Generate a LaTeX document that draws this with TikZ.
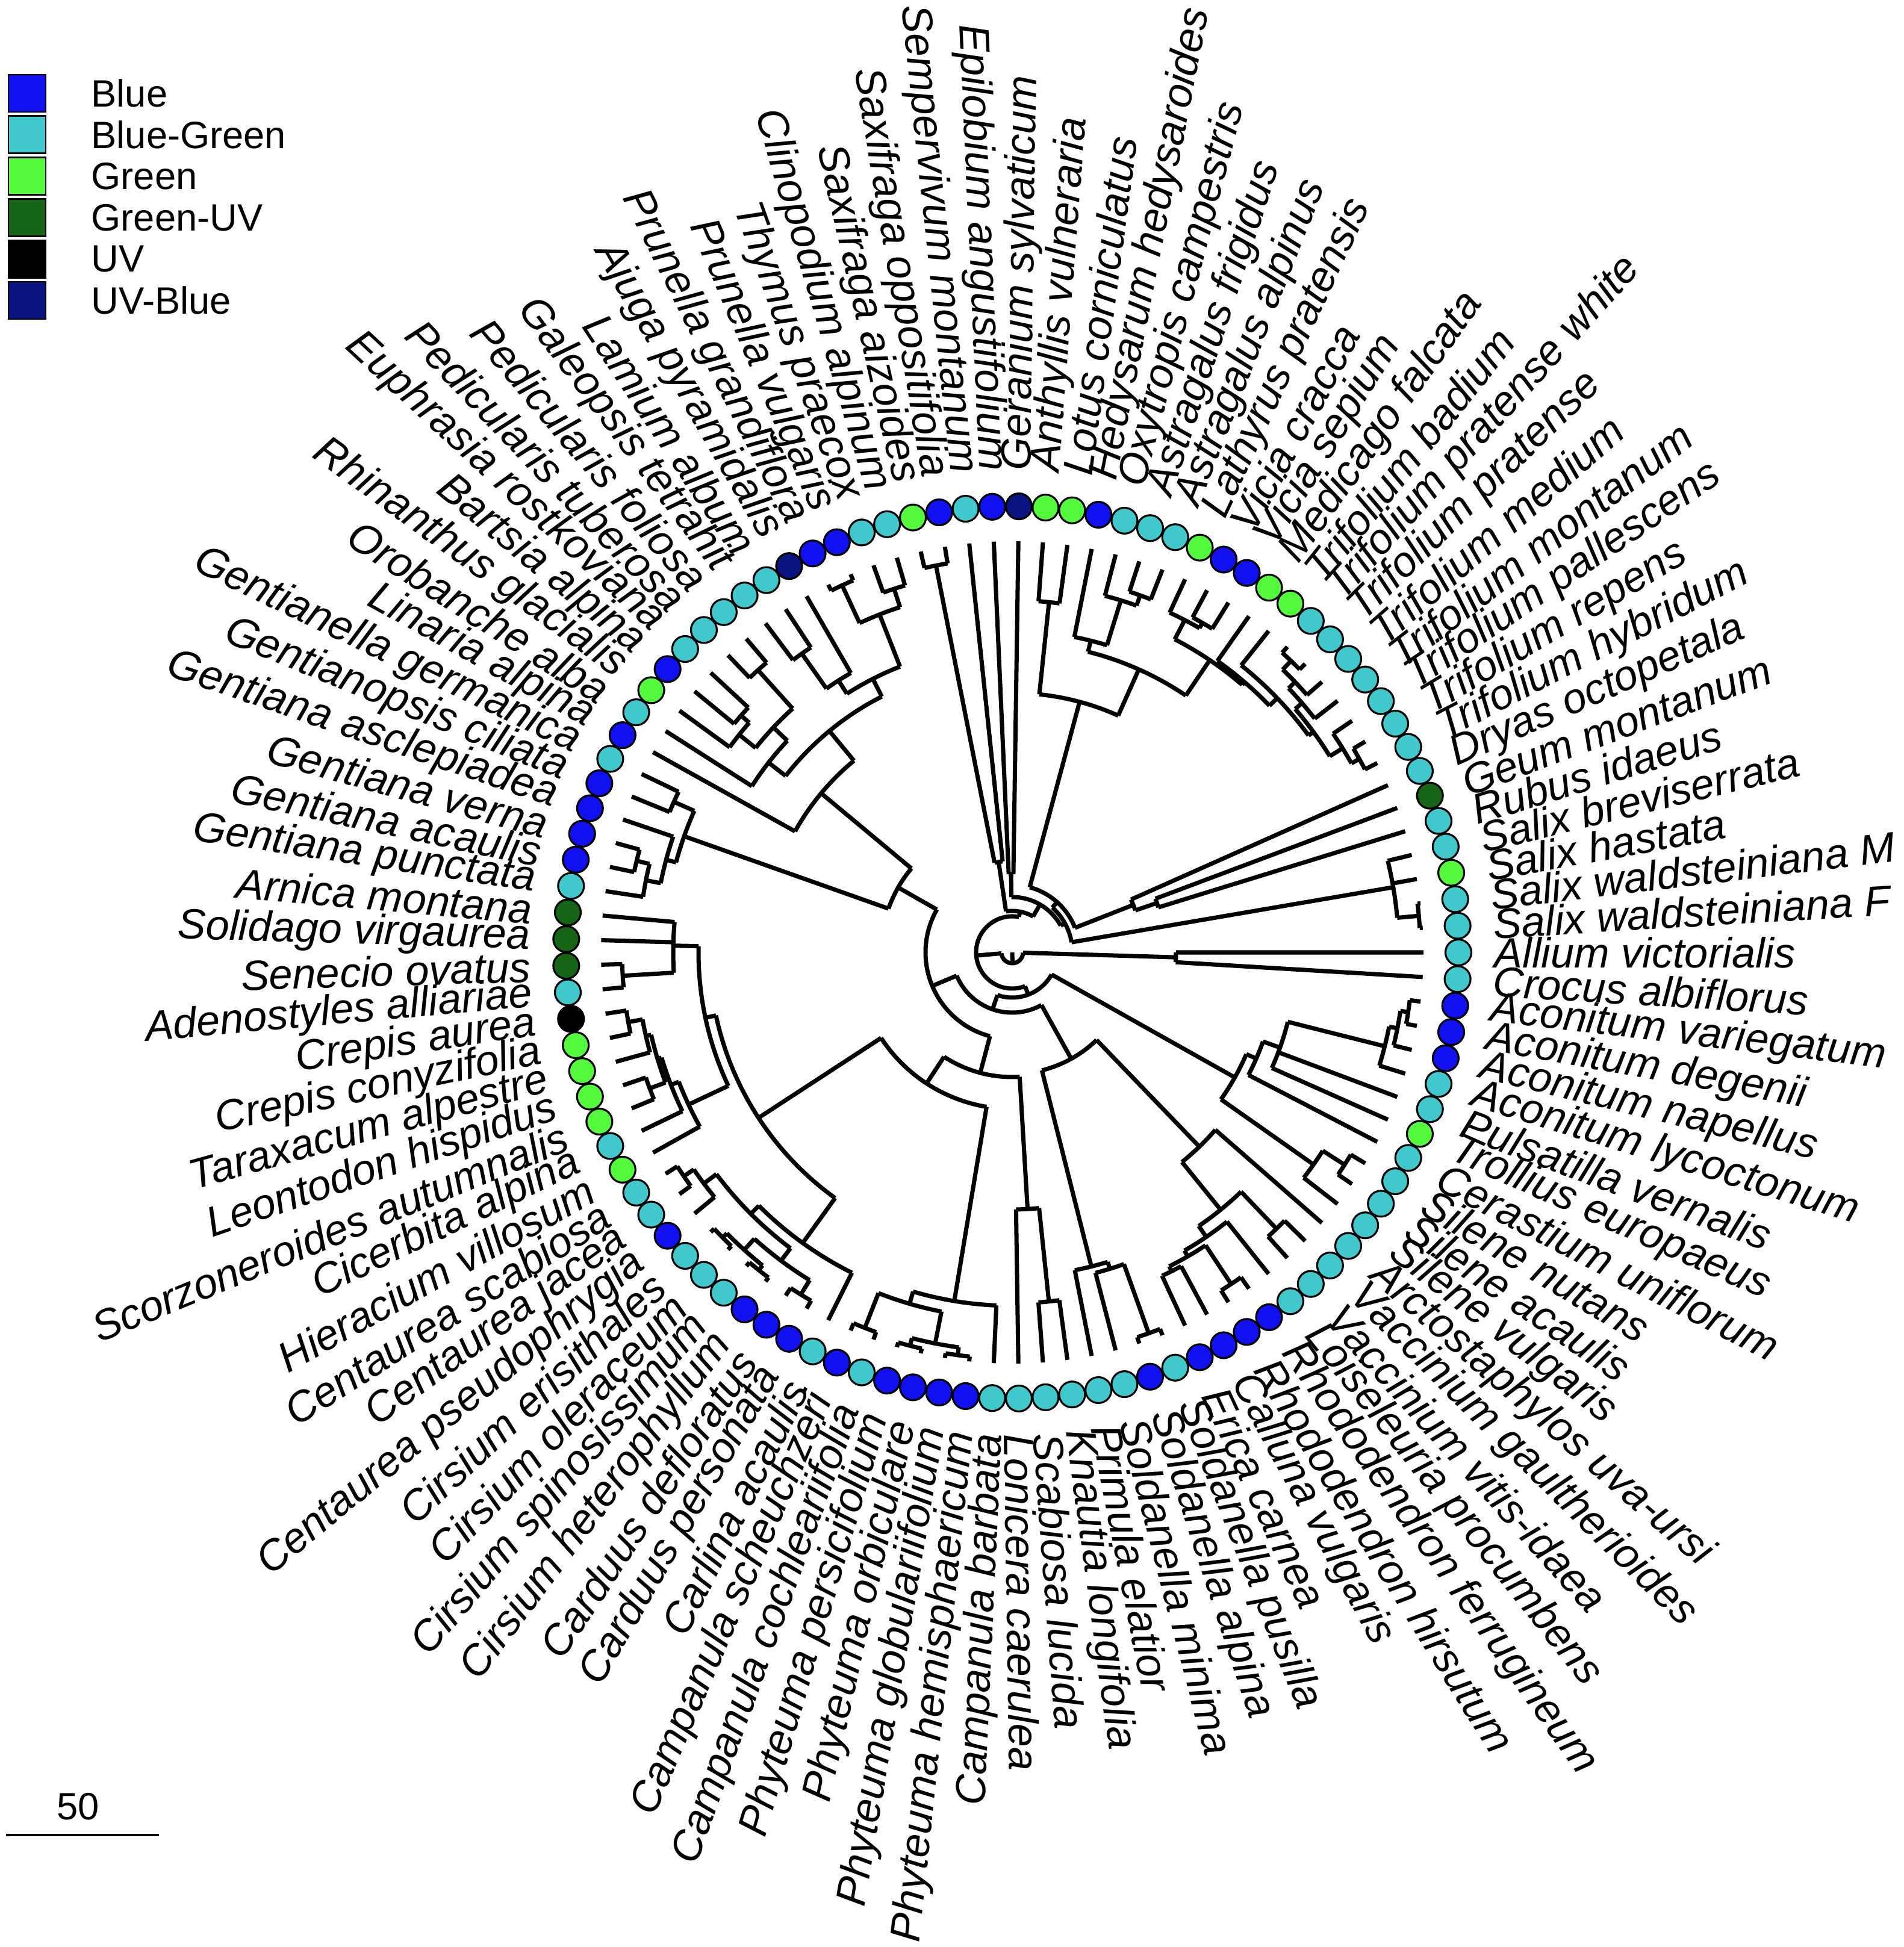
\documentclass[tikz,border=0pt]{standalone}
\usepackage{fontspec}
\setmainfont{Liberation Sans}
\usetikzlibrary{calc}

% flower colour categories
\definecolor{bl}{RGB}{16,16,240}
\definecolor{bg}{RGB}{64,200,204}
\definecolor{gr}{RGB}{84,250,60}
\definecolor{gu}{RGB}{22,100,22}
\definecolor{uv}{RGB}{0,0,0}
\definecolor{ub}{RGB}{10,20,128}

\tikzset{
  branch/.style={line width=2pt},
  tipdot/.style={circle, draw=black, line width=0.9pt, minimum size=0.43cm, inner sep=0pt},
  splab/.style={font=\fontsize{20}{24}\selectfont\itshape, inner sep=0pt},
  legbox/.style={draw=black, line width=0.8pt, minimum size=0.62cm, inner sep=0pt},
  legtext/.style={font=\fontsize{18}{22}\selectfont, inner sep=0pt}
}

\makeatletter
% tip: angle from its rank, radius of the tips
\newcommand\treetip[2]{%
  \pgfmathsetmacro\tt@a{360/105*#2}%
  \expandafter\xdef\csname A@#1\endcsname{\tt@a}%
  \expandafter\xdef\csname R@#1\endcsname{6.83}%
  \coordinate (#1) at (\tt@a:6.83);%
}
% clade: name, radius, children in angle order
\newcommand\clade[3]{%
  \gdef\cl@sum{0}\gdef\cl@n{0}\gdef\cl@first{}\gdef\cl@last{}%
  \foreach \cname in {#3}{%
    \edef\cl@ang{\csname A@\cname\endcsname}%
    \edef\cl@rad{\csname R@\cname\endcsname}%
    \draw[branch] (\cl@ang:#2) -- (\cl@ang:\cl@rad);
    \pgfmathsetmacro\cl@tmp{\cl@sum+\cl@ang}\xdef\cl@sum{\cl@tmp}%
    \pgfmathsetmacro\cl@tmp{\cl@n+1}\xdef\cl@n{\cl@tmp}%
    \ifx\cl@first\@empty\xdef\cl@first{\cl@ang}\fi
    \xdef\cl@last{\cl@ang}%
  }%
  \pgfmathsetmacro\cl@mean{\cl@sum/\cl@n}%
  \draw[branch] (\cl@first:#2) arc[start angle=\cl@first, end angle=\cl@last, radius=#2 cm];
  \expandafter\xdef\csname A@#1\endcsname{\cl@mean}%
  \expandafter\xdef\csname R@#1\endcsname{#2}%
  \coordinate (#1) at (\cl@mean:#2);%
}
\makeatother

\begin{document}
\begin{tikzpicture}
  \useasboundingbox (-16.81,-16.52) rectangle (14.81,15.82);

  % tips
  \foreach \k in {1,...,105}{\treetip{t\k}{\k}}

  % monocots
  \clade{mono}{2.72}{t104,t105}

  % Salicaceae, Rosaceae
  \clade{salWF}{6.78}{t1,t2}
  \clade{salix}{6.42}{salWF,t3,t4}
  \clade{geuRub}{2.54}{t5,t6}
  \clade{rosac}{2.16}{geuRub,t7}

  % Fabaceae
  \clade{triHyRe}{6.60}{t8,t9}
  \clade{triP4}{6.45}{triHyRe,t10}
  \clade{triPr}{6.70}{t13,t14}
  \clade{triP2}{6.50}{t12,triPr}
  \clade{triP3}{6.35}{t11,triP2}
  \clade{triRest}{6.20}{triP4,triP3}
  \clade{trifol}{6.10}{triRest,t15}
  \clade{medTri}{5.92}{trifol,t16}
  \clade{vicia}{6.32}{t17,t18}
  \clade{vicLat}{6.22}{vicia,t19}
  \clade{trifVic}{5.86}{medTri,vicLat}
  \clade{astrag}{6.30}{t20,t21}
  \clade{oxyAst}{6.12}{astrag,t22}
  \clade{hedys}{5.34}{oxyAst,t23}
  \clade{fabX}{5.15}{trifVic,hedys}
  \clade{lotea}{5.85}{t24,t25}
  \clade{fabac}{4.31}{fabX,lotea}

  % rosids
  \clade{fabRos}{1.12}{rosac,fabac}
  \clade{fabRosSal}{1.00}{salix,fabRos}
  \clade{gerEpi}{1.30}{t26,t27}
  \clade{rosCore}{0.92}{fabRosSal,gerEpi}
  \clade{saxif}{6.55}{t29,t30}
  \clade{saxales}{1.52}{t28,saxif}
  \clade{rosids}{0.69}{rosCore,saxales}

  % Lamiales
  \clade{cliThy}{6.35}{t31,t32}
  \clade{prun}{6.72}{t33,t34}
  \clade{lamCTP}{6.03}{cliThy,prun}
  \clade{lamGal}{6.07}{t36,t37}
  \clade{ajuLam}{5.36}{t35,lamGal}
  \clade{lamiac}{5.10}{lamCTP,ajuLam}
  \clade{pedic}{6.31}{t38,t39}
  \clade{euBar}{5.98}{t40,t41}
  \clade{euBaRh}{5.80}{euBar,t42}
  \clade{orobA}{5.45}{pedic,euBaRh}
  \clade{oroban}{5.13}{orobA,t43}
  \clade{lamL2}{4.77}{lamiac,oroban}
  \clade{lamiales}{4.13}{lamL2,t44}

  % Gentianaceae
  \clade{gentGG}{6.15}{t45,t46}
  \clade{gentVA}{6.42}{t48,t49}
  \clade{gentVAP}{6.20}{gentVA,t50}
  \clade{gentiana}{5.95}{t47,gentVAP}
  \clade{gentian}{5.78}{gentGG,gentiana}
  \clade{lamiids}{2.18}{lamiales,gentian}

  % Asteraceae
  \clade{senAde}{6.48}{t53,t54}
  \clade{asteroid}{5.63}{t51,t52,senAde}
  \clade{crepis}{6.48}{t55,t56}
  \clade{crTar}{6.24}{crepis,t57}
  \clade{leoSco}{6.43}{t58,t59}
  \clade{cicC2}{6.15}{crTar,leoSco}
  \clade{cicC3}{6.08}{cicC2,t60}
  \clade{cichor}{5.94}{cicC3,t61}
  \clade{astCic}{5.21}{asteroid,cichor}
  \clade{centA}{6.60}{t62,t63}
  \clade{centau}{6.40}{centA,t64}
  \clade{cirsA}{6.75}{t65,t66}
  \clade{cirsB}{6.75}{t67,t68}
  \clade{cirsium}{6.65}{cirsA,cirsB}
  \clade{carduus}{6.68}{t69,t70}
  \clade{cirCar}{6.40}{cirsium,carduus}
  \clade{cynar}{6.14}{centau,cirCar}
  \clade{carduo}{5.95}{cynar,t71}
  \clade{asterac}{5.03}{astCic,carduo}

  % Campanulaceae, Dipsacales
  \clade{campAB}{6.70}{t72,t73}
  \clade{phyA}{6.75}{t74,t75}
  \clade{phyB}{6.75}{t76,t77}
  \clade{phyteu}{6.62}{phyA,phyB}
  \clade{campC2}{6.08}{campAB,phyteu}
  \clade{campan}{5.87}{campC2,t78}
  \clade{asteral}{2.60}{asterac,campan}
  \clade{scaKna}{5.83}{t80,t81}
  \clade{dipsac}{4.27}{t79,scaKna}
  \clade{campan2}{2.07}{asteral,dipsac}
  \clade{astCore}{1.44}{lamiids,campan2}

  % Ericales
  \clade{soldAP}{6.72}{t84,t85}
  \clade{soldan}{5.50}{t83,soldAP}
  \clade{primul}{5.38}{t82,soldan}
  \clade{eriCal}{5.92}{t86,t87}
  \clade{rhodo}{6.60}{t88,t89}
  \clade{ericRh}{5.83}{eriCal,rhodo}
  \clade{ericLo}{5.72}{ericRh,t90}
  \clade{vacc}{6.35}{t91,t92}
  \clade{ericE1}{5.50}{ericLo,vacc}
  \clade{ericac}{4.48}{ericE1,t93}
  \clade{ericales}{2.02}{primul,ericac}
  \clade{asterids}{1.00}{astCore,ericales}

  % Caryophyllales, Ranunculaceae
  \clade{silNA}{6.55}{t95,t96}
  \clade{silene}{6.12}{t94,silNA}
  \clade{acoA1}{6.65}{t102,t103}
  \clade{acoA2}{6.52}{t101,acoA1}
  \clade{aconit}{6.38}{t100,acoA2}
  \clade{ranunc}{4.72}{t98,t99,aconit}
  \clade{cerRan}{4.42}{t97,ranunc}
  \clade{caryo}{4.24}{silene,cerRan}
  \clade{superast}{0.75}{asterids,caryo}

  % root
  \clade{eudicot}{0.60}{rosids,superast}
  \clade{root}{0.18}{eudicot,mono}
  \coordinate (centre) at (0,0);
  \draw[branch] (root) -- (centre);

  % colour of each tip
  \foreach \col [count=\k] in {bg,bg,gr,bg,bg,gu,bg,bg,bg,bg,bg,bg,bg,bg,gr,gr,bl,bl,gr,bg,
    bg,bg,bl,gr,gr,ub,bl,bg,bl,gr,bg,bg,bl,bl,ub,bg,bg,bg,bg,bg,
    bl,gr,bg,bl,bg,bl,bl,bl,bl,bg,gu,gu,gu,bg,uv,gr,gr,gr,gr,bg,
    gr,bg,bg,bl,bg,bg,bg,bl,bl,bl,bg,bl,bg,bl,bl,bl,bl,bg,bg,bg,
    bg,bg,bg,bl,bg,bl,bl,bl,bl,bg,bg,bg,bg,bg,bg,bg,bg,gr,bg,bg,
    bl,bl,bl,bg,bg}{
    \pgfmathsetmacro\ang{360/105*\k}
    \node[tipdot, fill=\col] (dot\k) at (\ang:7.41) {};
  }

  % species names
  \foreach \lab [count=\k] in {Salix waldsteiniana F, Salix waldsteiniana M, Salix hastata,
    Salix breviserrata, Rubus idaeus, Geum montanum, Dryas octopetala, Trifolium hybridum,
    Trifolium repens, Trifolium pallescens, Trifolium montanum, Trifolium medium,
    Trifolium pratense, Trifolium pratense white, Trifolium badium, Medicago falcata,
    Vicia sepium, Vicia cracca, Lathyrus pratensis, Astragalus alpinus, Astragalus frigidus,
    Oxytropis campestris, Hedysarum hedysaroides, Lotus corniculatus, Anthyllis vulneraria,
    Geranium sylvaticum, Epilobium angustifolium, Sempervivum montanum,
    Saxifraga oppositifolia, Saxifraga aizoides, Clinopodium alpinum, Thymus praecox,
    Prunella vulgaris, Prunella grandiflora, Ajuga pyramidalis, Lamium album,
    Galeopsis tetrahit, Pedicularis foliosa, Pedicularis tuberosa, Euphrasia rostkoviana,
    Bartsia alpina, Rhinanthus glacialis, Orobanche alba, Linaria alpina,
    Gentianella germanica, Gentianopsis ciliata, Gentiana asclepiadea, Gentiana verna,
    Gentiana acaulis, Gentiana punctata, Arnica montana, Solidago virgaurea, Senecio ovatus,
    Adenostyles alliariae, Crepis aurea, Crepis conyzifolia, Taraxacum alpestre,
    Leontodon hispidus, Scorzoneroides autumnalis, Cicerbita alpina, Hieracium villosum,
    Centaurea scabiosa, Centaurea jacea, Centaurea pseudophrygia, Cirsium erisithales,
    Cirsium oleraceum, Cirsium spinosissimum, Cirsium heterophyllum, Carduus defloratus,
    Carduus personata, Carlina acaulis, Campanula scheuchzeri, Campanula cochleariifolia,
    Phyteuma persicifolium, Phyteuma orbiculare, Phyteuma globulariifolium,
    Phyteuma hemisphaericum, Campanula barbata, Lonicera caerulea, Scabiosa lucida,
    Knautia longifolia, Primula elatior, Soldanella minima, Soldanella alpina,
    Soldanella pusilla, Erica carnea, Calluna vulgaris, Rhododendron hirsutum,
    Rhododendron ferrugineum, Loiseleuria procumbens, Vaccinium vitis-idaea,
    Vaccinium gaultherioides, Arctostaphylos uva-ursi, Silene vulgaris, Silene acaulis,
    Silene nutans, Cerastium uniflorum, Trollius europaeus, Pulsatilla vernalis,
    Aconitum lycoctonum, Aconitum napellus, Aconitum degenii, Aconitum variegatum,
    Crocus albiflorus, Allium victorialis}{
    \pgfmathsetmacro\ang{360/105*\k}
    \ifdim\ang pt>90pt
      \ifdim\ang pt<270pt
        \node[splab, anchor=east, rotate=\ang-180] (lab\k) at (\ang:8.0) {\lab};
      \else
        \node[splab, anchor=west, rotate=\ang] (lab\k) at (\ang:8.0) {\lab};
      \fi
    \else
      \node[splab, anchor=west, rotate=\ang] (lab\k) at (\ang:8.0) {\lab};
    \fi
  }

  % legend
  \foreach \col/\txt [count=\i] in {bl/Blue, bg/Blue-Green, gr/Green, gu/Green-UV, uv/UV, ub/UV-Blue}{
    \node[legbox, fill=\col] (leg\i) at (-16.36,{14.27-(\i-1)*0.688}) {};
    \node[legtext, anchor=west] (legt\i) at (-15.30,{14.27-(\i-1)*0.688}) {\txt};
  }

  % scale bar
  \coordinate (sbL) at (-16.71,-14.66);
  \coordinate (sbR) at (-14.17,-14.66);
  \draw[line width=1.2pt] (sbL) -- (sbR);
  \node[legtext] (sbText) at (-15.51,-14.19) {50};
\end{tikzpicture}
\end{document}
